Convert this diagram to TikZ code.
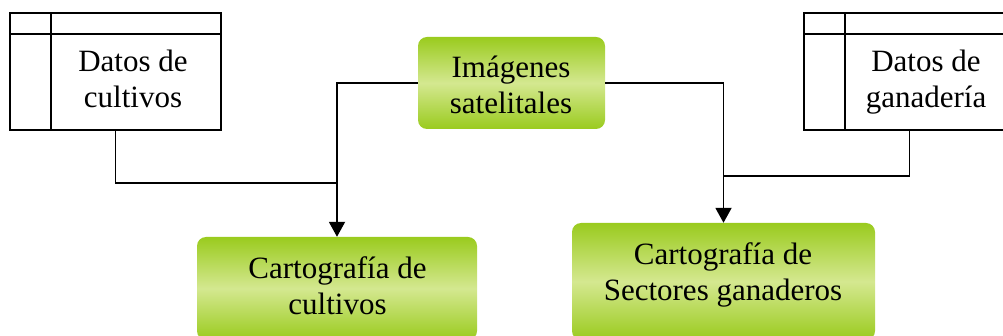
\documentclass[tikz,border=0pt]{standalone}
\usepackage{fontspec}
\setmainfont{Liberation Serif}
\usetikzlibrary{arrows.meta}
\definecolor{gtop}{RGB}{154,203,30}
\definecolor{glight}{RGB}{212,232,144}
\tikzset{
  databox/.style={draw=black, line width=1.6pt, rectangle, inner sep=0pt},
  greenbox/.style={rectangle, rounded corners=9pt, inner sep=0pt,
    top color=gtop, bottom color=gtop, middle color=glight},
  lbl/.style={font=\fontsize{31}{36}\selectfont, align=center, inner sep=0pt, anchor=north},
  conn/.style={draw=black, line width=1.3pt},
  arr/.style={draw=black, line width=1.9pt, -{Triangle[width=16pt,length=15pt]}}
}
\begin{document}
\begin{tikzpicture}[x=1pt,y=-1pt]
\useasboundingbox (0,0) rectangle (1003,336);
% data boxes
\node[databox, minimum width=211pt, minimum height=117pt] (dc) at (115.5,71.5) {};
\draw[line width=1.6pt] (dc.north west) ++(42,0) coordinate (dcv) -- (dcv |- dc.south);
\draw[line width=1.6pt] (dc.north west) ++(0,22) coordinate (dch) -- (dch -| dc.east);
\node[lbl] (dct) at (133,49.5) {Datos de\\cultivos};
\node[databox, minimum width=211pt, minimum height=117pt] (dg) at (909.5,71.5) {};
\draw[line width=1.6pt] (dg.north west) ++(42,0) coordinate (dgv) -- (dgv |- dg.south);
\draw[line width=1.6pt] (dg.north west) ++(0,22) coordinate (dgh) -- (dgh -| dg.east);
\node[lbl] (dgt) at (926,49.5) {Datos de\\ganadería};
% green boxes
\node[greenbox, minimum width=187pt, minimum height=92pt] (sat) at (511.5,83) {};
\node[lbl] (satt) at (511,56) {Imágenes\\satelitales};
\node[greenbox, minimum width=280pt, minimum height=103pt] (cc) at (337,288.5) {};
\node[lbl] (cct) at (337.5,256) {Cartografía de\\cultivos};
\node[greenbox, minimum width=303pt, minimum height=117pt] (sg) at (723.5,281.5) {};
\node[lbl] (sgt) at (723,242) {Cartografía de\\Sectores ganaderos};
% junctions
\coordinate (j1) at (337,183);
\coordinate (j2) at (723.5,176);
% connectors
\draw[conn] (dc.south) |- (j1);
\draw[conn] (dg.south) |- (j2);
\draw[conn] (sat.west) -| (j1);
\draw[conn] (sat.east) -| (j2);
\draw[arr] (j1) -- (cc.north);
\draw[arr] (j2) -- (sg.north);
\end{tikzpicture}
\end{document}
